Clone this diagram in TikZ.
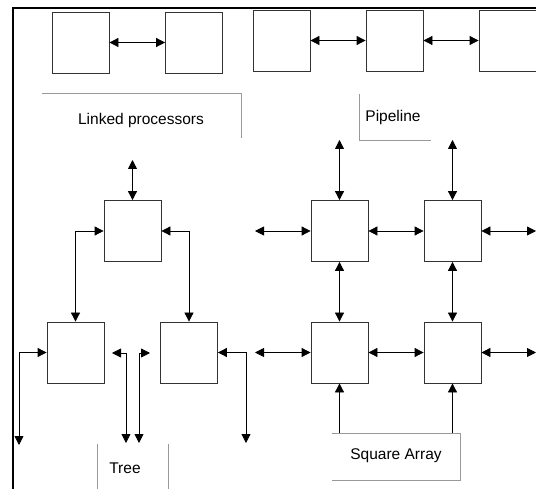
\documentclass[tikz,border=0pt]{standalone}
\usepackage{fontspec}
\setmainfont{Liberation Sans}
\usetikzlibrary{arrows.meta}

\begin{document}
\begin{tikzpicture}[x=1pt,y=-1pt, proc/.style={draw=black!80, line width=0.8pt, minimum width=57pt, minimum height=61pt, inner sep=0pt}, lbl/.style={font=\fontsize{15.5}{18}\selectfont, inner sep=0pt}, link/.style={line width=0.8pt, >={Triangle[length=9pt,width=9pt]}}, rim/.style={draw=black!40, line width=0.6pt}]
    \useasboundingbox (0,0) rectangle (536,489);
    \draw[line width=2.6pt] (13,489) -- (13,8) -- (536,8);

    \node[proc] (L1) at (80.5,42.5) {};
    \node[proc] (L2) at (194,42.5) {};
    \node[proc] (P1) at (281.5,40.5) {};
    \node[proc] (P2) at (394.5,40.5) {};
    \node[proc] (P3) at (507.5,40.5) {};

    \node[proc] (T0) at (132.5,231) {};
    \node[proc] (T1) at (75.5,352.5) {};
    \node[proc] (T2) at (189,352.5) {};

    \node[proc] (S11) at (339.5,231) {};
    \node[proc] (S12) at (452.5,231) {};
    \node[proc] (S21) at (339.5,352.5) {};
    \node[proc] (S22) at (452.5,352.5) {};

    \node[lbl] (lnk) at (141,120) {Linked processors};
    \node[lbl] (pip) at (393,117) {Pipeline};
    \node[lbl] (tre) at (125,468) {Tree};
    \node[lbl] (sqa) at (396,456) {Square Array};

    \draw[rim] (42,93) -- (241,93) -- (241,138);
    \draw[rim] (359,94) -- (359,140) -- (431,140);
    \draw[rim] (97,444) -- (97,489);
    \draw[rim] (168,444) -- (168,489);
    \draw[rim] (332,433) -- (460,433) -- (460,480) -- (332,480);

    \coordinate (t0) at (132.5,160);
    \coordinate (t1a) at (19,445);
    \coordinate (t1b) at (112,353);
    \coordinate (t1c) at (126,443);
    \coordinate (t2a) at (139,443);
    \coordinate (t2b) at (150,353);
    \coordinate (t2c) at (246,443);
    \coordinate (s1) at (339.5,140);
    \coordinate (s2) at (452.5,140);
    \coordinate (w1) at (255,231);
    \coordinate (w2) at (255,352.5);
    \coordinate (e1) at (536,231);
    \coordinate (e2) at (536,352.5);
    \coordinate (b1) at (339.5,433);
    \coordinate (b2) at (452.5,433);

   \begin{scope}[link]
    \draw[<->] (L1) -- (L2);
    \draw[<->] (P1) -- (P2);
    \draw[<->] (P2) -- (P3);

    \draw[<->] (t0) -- (T0);
    \draw[<->] (T0.west) -| (T1.north);
    \draw[<->] (T0.east) -| (T2.north);
    \draw[<->] (t1a) |- (T1.west);
    \draw[<->] (t1b) -| (t1c);
    \draw[<->] (t2a) |- (t2b);
    \draw[<->] (T2.east) -| (t2c);

    \draw[<->] (s1) -- (S11);
    \draw[<->] (s2) -- (S12);
    \draw[<->] (w1) -- (S11);
    \draw[<->] (S11) -- (S12);
    \draw[<->] (S12) -- (e1);
    \draw[<->] (w2) -- (S21);
    \draw[<->] (S21) -- (S22);
    \draw[<->] (S22) -- (e2);
    \draw[<->] (S11) -- (S21);
    \draw[<->] (S12) -- (S22);
    \draw[->] (b1) -- (S21);
    \draw[->] (b2) -- (S22);
   \end{scope}
\end{tikzpicture}
\end{document}
